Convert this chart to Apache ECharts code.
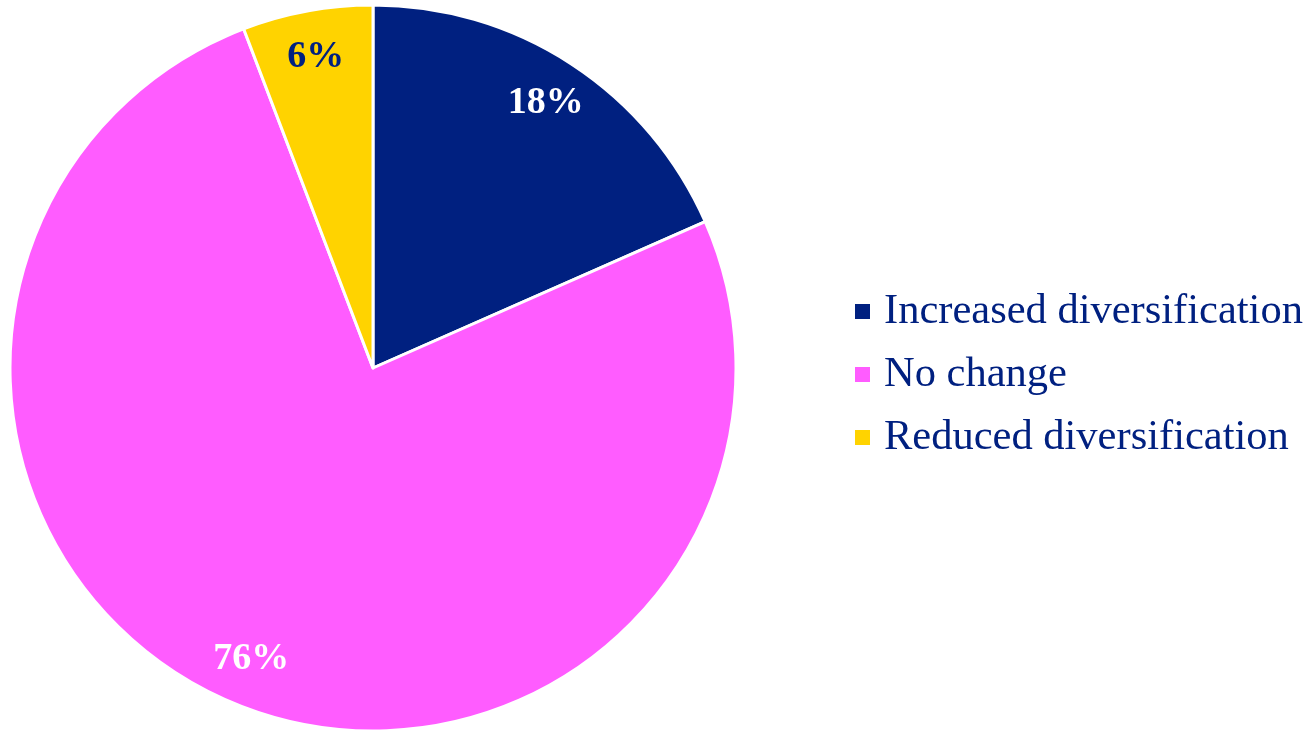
<!DOCTYPE html>
<html>
<head>
<meta charset="utf-8">
<script src="https://cdn.jsdelivr.net/npm/echarts@6/dist/echarts.min.js"></script>
<style>
  html, body { margin: 0; padding: 0; background: #fff; }
  #chart { width: 1309px; height: 733px; }
</style>
</head>
<body>
<div id="chart"></div>
<script>
var names = ['Increased diversification', 'No change', 'Reduced diversification']
var shares = [18.4, 75.8, 5.8]
var colors = ['#002080', '#FF5CFF', '#FFD300']
var labelColors = ['#ffffff', '#ffffff', '#002080']

var serif = "'Liberation Serif', 'Times New Roman', serif"

var pieData = names.map(function (n, i) {
  return { name: n, value: shares[i], itemStyle: { color: colors[i] } }
})
// label ring: same data, transparent, only used to place the % labels near the rim
var labelData = names.map(function (n, i) {
  return {
    name: n,
    value: shares[i],
    itemStyle: { color: 'transparent', borderWidth: 0 },
    label: { color: labelColors[i] }
  }
})

var chart = echarts.init(document.getElementById('chart'))
var option = {
  animation: false,
  legend: {
    orient: 'vertical',
    left: 848,
    top: 285,
    data: names,
    icon: 'rect',
    itemWidth: 17,
    itemHeight: 17,
    itemGap: 20,
    textStyle: {
      fontFamily: serif,
      fontSize: 42.5,
      color: '#002080',
      padding: [0, 0, 0, 8]
    }
  },
  series: [
    {
      type: 'pie',
      center: [373, 368],
      radius: [0, 363],
      startAngle: 90,
      clockwise: true,
      silent: true,
      label: { show: false },
      labelLine: { show: false },
      itemStyle: { borderColor: '#fff', borderWidth: 3 },
      data: pieData
    },
    {
      type: 'pie',
      center: [373, 368],
      radius: [264, 362],
      startAngle: 90,
      clockwise: true,
      silent: true,
      percentPrecision: 0,
      legendHoverLink: false,
      label: {
        show: true,
        position: 'inside',
        formatter: '{d}%',
        fontFamily: serif,
        fontWeight: 'bold',
        fontSize: 38
      },
      labelLine: { show: false },
      data: labelData
    }
  ]
}
chart.setOption(option)
</script>
</body>
</html>
